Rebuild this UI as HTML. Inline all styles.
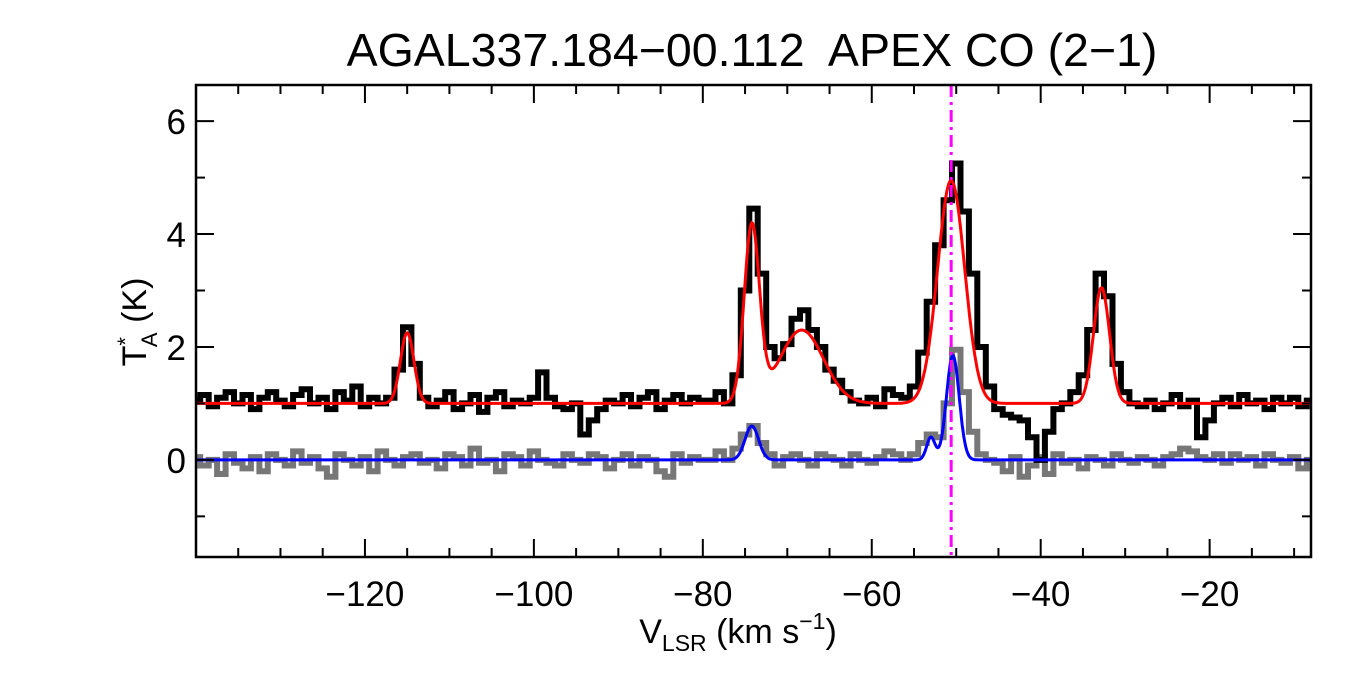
<!DOCTYPE html>
<html><head><meta charset="utf-8">
<style>
html,body{margin:0;padding:0;background:#fff;}
svg{display:block;font-family:"Liberation Sans",sans-serif;}
</style></head>
<body>
<svg id="chart" width="1350" height="675" viewBox="0 0 1350 675">
<text x="752" y="66" font-size="46.5" text-anchor="middle" xml:space="preserve">AGAL337.184−00.112  APEX CO (2−1)</text>
<g id="data-layer"></g>
<g id="axes"></g>
<text transform="translate(146,322) rotate(-90)" font-size="34" text-anchor="middle">T<tspan font-size="22" dy="-13">*</tspan><tspan font-size="22" dx="-10" dy="24">A</tspan><tspan dy="-11"> (K)</tspan></text>
<text x="738" y="643" font-size="34" text-anchor="middle">V<tspan font-size="23" dy="8">LSR</tspan><tspan dy="-8"> (km s</tspan><tspan font-size="23" dy="-14">−1</tspan><tspan dy="14">)</tspan></text>
</svg>
<script>
const v0 = -140;
const dv = 1;
const black = [1.05,1.15,0.95,1.1,1.2,1.0,1.15,0.9,1.1,1.2,1.05,0.95,1.15,1.25,1.0,1.1,0.9,1.2,1.05,1.3,0.95,1.1,1.0,1.1,1.6,2.35,1.7,1.1,0.95,1.05,1.2,0.9,1.0,1.15,0.85,1.1,1.2,0.95,1.05,1.0,1.1,1.55,1.1,0.95,0.9,1.0,0.45,0.7,0.9,1.05,1.0,1.15,0.95,1.1,1.2,0.9,1.05,1.15,1.0,1.1,1.05,1.05,1.2,1.0,1.5,3.0,4.45,3.3,2.0,1.8,2.05,2.5,2.65,2.3,2.0,1.6,1.4,1.2,1.05,1.0,1.1,0.95,1.25,1.15,1.1,1.3,1.9,2.8,3.8,4.6,5.25,4.4,3.3,2.0,1.3,0.9,0.8,0.75,0.7,0.4,0.0,0.5,0.9,1.0,1.2,1.5,2.3,3.3,2.9,1.7,1.2,1.0,0.95,1.05,0.9,1.0,1.15,0.95,1.05,0.4,0.7,1.0,1.1,0.95,1.15,1.0,1.05,0.9,1.1,1.0,1.1,0.95,1.05];
const gray = [0.05,-0.1,0.0,-0.25,0.1,-0.05,-0.15,0.05,-0.2,0.1,0.0,-0.1,0.15,-0.05,0.05,-0.15,-0.3,0.1,0.0,-0.1,0.05,-0.2,0.15,0.0,-0.1,0.05,0.1,-0.05,0.0,-0.15,0.1,0.05,-0.1,0.2,-0.05,0.0,-0.2,0.1,0.05,-0.1,0.15,0.0,-0.05,-0.1,0.1,0.0,-0.05,0.1,0.05,-0.15,0.0,0.1,-0.1,0.05,0.0,-0.2,-0.3,0.1,-0.05,0.05,0.0,0.0,0.15,0.0,0.2,0.45,0.6,0.3,0.1,-0.1,0.05,0.1,0.0,-0.1,0.1,0.05,0.0,-0.1,0.1,0.0,-0.05,0.05,0.15,0.1,0.0,0.1,0.3,0.45,0.4,1.0,1.95,1.2,0.5,0.1,0.0,-0.05,-0.2,0.05,-0.3,-0.1,0.05,-0.25,0.1,-0.05,0.0,-0.15,0.05,0.0,-0.1,0.1,0.0,-0.05,0.05,0.0,-0.1,0.05,0.1,0.2,0.15,0.05,0.0,0.1,-0.05,0.1,0.0,0.05,-0.1,0.1,0.0,-0.05,0.05,-0.15,0.0];
const redCenters = [-115,-74.2,-68.3,-50.6,-32.8];
const redAmps = [1.25,3.1,1.3,3.95,2.05];
const redSigmas = [0.8,0.9,2.6,1.6,0.95];
const redBase = 1.0;
const blueCenters = [-74.2,-53.0,-50.4];
const blueAmps = [0.6,0.4,1.85];
const blueSigmas = [0.8,0.5,0.75];
const xTicks = [-120,-100,-80,-60,-40,-20];
const yTicks = [0,2,4,6];
const refVelocity = -50.6;

const X0=196,X1=1311,Y0=85,Y1=557, XMIN=-140, XMAX=-8, YMIN=-1.72, YMAX=6.64;
const sx = v => X0 + (v-XMIN)/(XMAX-XMIN)*(X1-X0);
const sy = t => Y1 - (t-YMIN)/(YMAX-YMIN)*(Y1-Y0);
const NS='http://www.w3.org/2000/svg';
const dl=document.getElementById('data-layer'), ax=document.getElementById('axes');
function mk(tag, attrs, parent){const e=document.createElementNS(NS,tag);for(const k in attrs)e.setAttribute(k,attrs[k]);parent.appendChild(e);return e;}
function stepPath(arr){let d='';arr.forEach((val,i)=>{const xa=sx(Math.max(XMIN,v0+i*dv-dv/2)),xb=sx(Math.min(XMAX,v0+i*dv+dv/2)),y=sy(val);d+=(i?'L':'M')+xa.toFixed(1)+','+y.toFixed(1)+'L'+xb.toFixed(1)+','+y.toFixed(1);});return d;}
function gauss(c,a,s,base){let d='';for(let v=XMIN;v<=XMAX;v+=0.1){let t=base;for(let k=0;k<c.length;k++)t+=a[k]*Math.exp(-0.5*Math.pow((v-c[k])/s[k],2));d+=(d?'L':'M')+sx(v).toFixed(1)+','+sy(t).toFixed(1);}return d;}
const g1=mk('path',{d:stepPath(gray),fill:'none',stroke:'#777','stroke-width':6},dl);


const b1=mk('path',{d:stepPath(black),fill:'none',stroke:'#000','stroke-width':6},dl);


const r1=mk('path',{d:gauss(redCenters,redAmps,redSigmas,redBase),fill:'none',stroke:'#f00','stroke-width':3},dl);


const bl=mk('path',{d:gauss(blueCenters,blueAmps,blueSigmas,0),fill:'none',stroke:'#00f','stroke-width':3},dl);


const mg=mk('line',{x1:sx(refVelocity),x2:sx(refVelocity),y1:Y0,y2:Y1,stroke:'#f0f','stroke-width':3,'stroke-dasharray':'12,5,3,5'},dl);


const fr=mk('rect',{x:X0,y:Y0,width:X1-X0,height:Y1-Y0,fill:'none',stroke:'#000','stroke-width':2.5},ax);


for(let v=-135;v<XMAX;v+=5){const maj=xTicks.includes(v),L=maj?18:9;const x=sx(v);
mk('line',{x1:x,x2:x,y1:Y1,y2:Y1-L,stroke:'#000','stroke-width':2},ax);
mk('line',{x1:x,x2:x,y1:Y0,y2:Y0+L,stroke:'#000','stroke-width':2},ax);}
xTicks.forEach(v=>{const t=mk('text',{x:sx(v),y:606,'font-size':35,'text-anchor':'middle'},ax);t.textContent=String(v).replace('-','−');

});
for(let t=-1;t<=6;t++){const maj=yTicks.includes(t),L=maj?18:9;const y=sy(t);
mk('line',{x1:X0,x2:X0+L,y1:y,y2:y,stroke:'#000','stroke-width':2},ax);
mk('line',{x1:X1,x2:X1-L,y1:y,y2:y,stroke:'#000','stroke-width':2},ax);}
yTicks.forEach(t=>{const e=mk('text',{x:186,y:sy(t)+13,'font-size':35,'text-anchor':'end'},ax);e.textContent=String(t);

});
</script>
</body></html>
